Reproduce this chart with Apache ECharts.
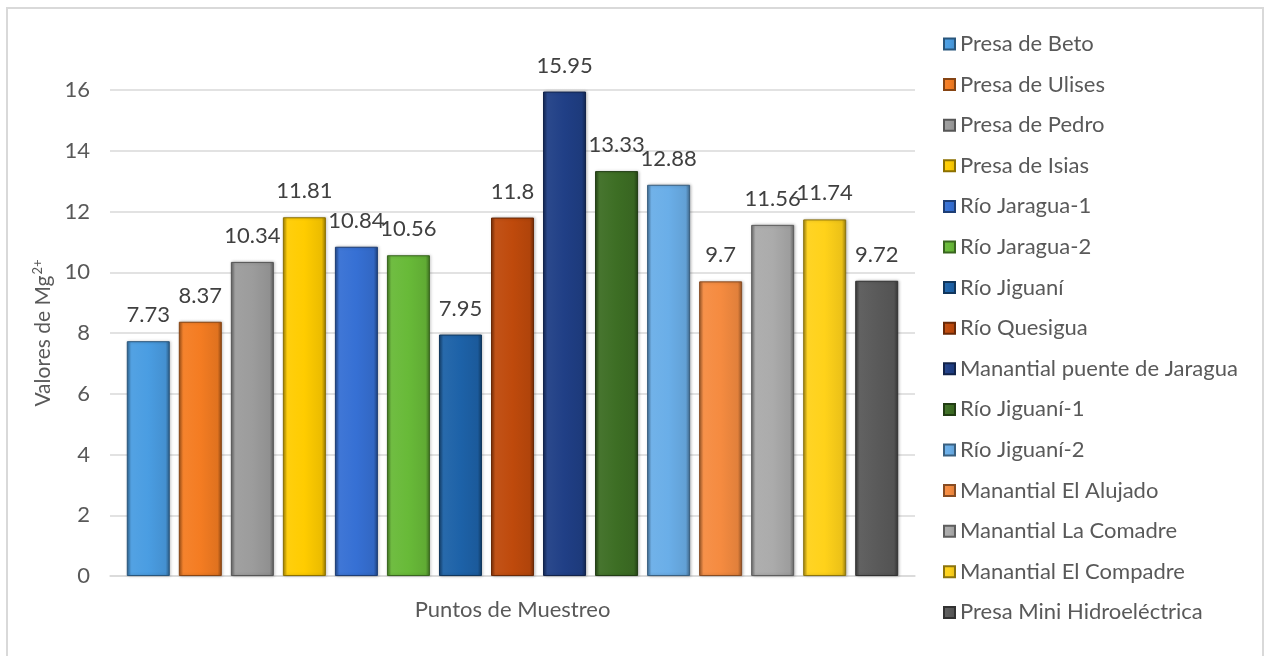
<!DOCTYPE html>
<html>
<head>
<meta charset="utf-8">
<script src="https://cdn.jsdelivr.net/npm/echarts@6/dist/echarts.min.js"></script>
<style>
  html, body { margin: 0; padding: 0; background: #ffffff; }
  #chart { width: 1267px; height: 656px; }
</style>
</head>
<body>
<div id="chart"></div>
<script>
// Sampling points (one bar per site)
const sites = [
  'Presa de Beto', 'Presa de Ulises', 'Presa de Pedro', 'Presa de Isias',
  'Río Jaragua-1', 'Río Jaragua-2', 'Río Jiguaní', 'Río Quesigua',
  'Manantial puente de Jaragua', 'Río Jiguaní-1', 'Río Jiguaní-2',
  'Manantial El Alujado', 'Manantial La Comadre', 'Manantial El Compadre',
  'Presa Mini Hidroeléctrica'
];
// Mg2+ values per site
const mgValues = [7.73, 8.37, 10.34, 11.81, 10.84, 10.56, 7.95, 11.8, 15.95, 13.33, 12.88, 9.7, 11.56, 11.74, 9.72];
const siteColors = [
  '#4a9de2', '#f47c22', '#9c9c9c', '#ffcc00', '#3670d4', '#68ba38', '#1d62a8', '#bf4a0c',
  '#203f86', '#3d6e24', '#6aaee8', '#f58b40', '#ababab', '#ffd21a', '#5a5a5a'
];
const categoryLabels = ['Puntos de Muestreo'];
const yTicks = { min: 0, max: 16, step: 2 };

const FONT = 'Lato';
const TEXT = '#595959';

function shade(hex, f) {
  const n = parseInt(hex.slice(1), 16);
  let r = (n >> 16) & 255, g = (n >> 8) & 255, b = n & 255;
  const adj = c => Math.max(0, Math.min(255, Math.round(f < 0 ? c * (1 + f) : c + (255 - c) * f)));
  return 'rgb(' + adj(r) + ',' + adj(g) + ',' + adj(b) + ')';
}

// bevelled fill: darker edges, brighter centre
function bevel(c) {
  return {
    type: 'linear', x: 0, y: 0, x2: 1, y2: 0,
    colorStops: [
      { offset: 0, color: shade(c, -0.35) },
      { offset: 0.1, color: shade(c, 0.05) },
      { offset: 0.5, color: c },
      { offset: 0.9, color: shade(c, -0.08) },
      { offset: 1, color: shade(c, -0.4) }
    ]
  };
}

const series = sites.map((name, i) => ({
  name: name,
  type: 'bar',
  data: [mgValues[i]],
  barWidth: 43,
  barGap: '21%',
  itemStyle: {
    color: bevel(siteColors[i]),
    borderColor: shade(siteColors[i], -0.45),
    borderWidth: 1,
    shadowColor: 'rgba(0,0,0,0.25)',
    shadowBlur: 3,
    shadowOffsetX: 1,
    shadowOffsetY: 0
  },
  label: {
    show: true,
    position: 'top',
    distance: 15,
    fontFamily: FONT,
    fontSize: 22,
    color: '#404040'
  },
  emphasis: { disabled: true }
}));

const chart = echarts.init(document.getElementById('chart'));
chart.setOption({
  animation: false,
  backgroundColor: '#ffffff',
  graphic: [{
    type: 'rect',
    shape: { x: 7, y: 8, width: 1256, height: 660 },
    style: { fill: 'none', stroke: '#d9d9d9', lineWidth: 2 },
    silent: true
  }],
  grid: { left: 110, right: 352, top: 90, bottom: 80, containLabel: false },
  legend: {
    orient: 'vertical',
    left: 938,
    top: 28,
    itemWidth: 11,
    itemHeight: 11,
    itemGap: 18.6,
    icon: 'rect',
    textStyle: { fontFamily: FONT, fontSize: 22, color: TEXT },
    data: sites
  },
  xAxis: {
    type: 'category',
    data: categoryLabels,
    axisLine: { lineStyle: { color: '#d9d9d9', width: 1.5 } },
    axisTick: { show: false },
    axisLabel: { margin: 23, fontFamily: FONT, fontSize: 22, color: TEXT }
  },
  yAxis: {
    type: 'value',
    min: yTicks.min,
    max: yTicks.max,
    interval: yTicks.step,
    axisLine: { show: false },
    axisTick: { show: false },
    splitLine: { lineStyle: { color: '#d9d9d9', width: 1.5 } },
    axisLabel: { margin: 20, fontFamily: FONT, fontSize: 22, color: TEXT },
    name: '{b|Valores de Mg}{s|2+}',
    nameLocation: 'middle',
    nameGap: 52,
    nameRotate: 90,
    nameTextStyle: {
      rich: {
        b: { fontFamily: FONT, fontSize: 21, color: TEXT },
        s: { fontFamily: FONT, fontSize: 13, color: TEXT, verticalAlign: 'top', padding: [0, 0, 10, 1] }
      }
    }
  },
  series: series
});
</script>
</body>
</html>
